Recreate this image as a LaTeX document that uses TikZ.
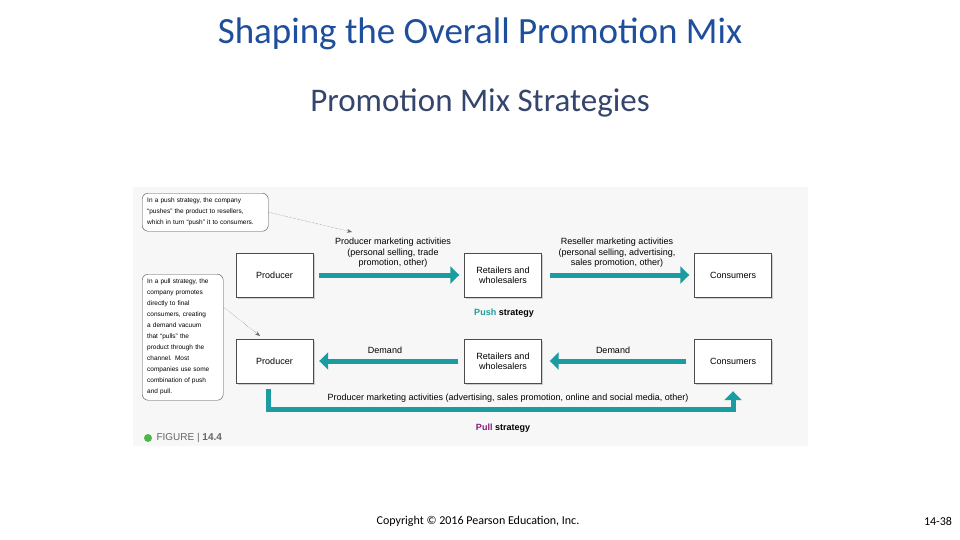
\documentclass[tikz,border=0pt]{standalone}
\usepackage{fontspec}
\setmainfont{Carlito}
\newfontfamily\figfont{Liberation Sans}
\usetikzlibrary{arrows.meta,positioning,shadows}
\definecolor{teal}{HTML}{1A9CA0}
\definecolor{pullc}{HTML}{8A1A7A}
\definecolor{titleblue}{HTML}{1F4E9C}
\definecolor{subblue}{HTML}{36456B}
\tikzset{
  box/.style={draw=black!70, fill=white, minimum width=77pt, minimum height=44pt,
    align=center, font=\figfont\fontsize{9}{10}\selectfont,
    drop shadow={shadow xshift=1.5pt, shadow yshift=-1.5pt, opacity=0.35}},
  flow/.style={teal, line width=5pt, -{Triangle[length=9pt,width=17pt]}},
  lbl/.style={font=\figfont\fontsize{9}{10.5}\selectfont, align=center},
  note/.style={draw=black!70, rounded corners=6pt, fill=white, align=left,
    font=\figfont\fontsize{6.5}{11}\selectfont, inner sep=5pt, anchor=north west},
  hint/.style={densely dotted, black!60, -{Stealth[length=5pt]}}
}
\begin{document}
\begin{tikzpicture}[x=1pt, y=-1pt]
\useasboundingbox (0,0) rectangle (960,540);
\fill[white] (0,0) rectangle (960,540);

\node[text=titleblue, font=\fontsize{37}{40}\selectfont] (title) at (480,34) {Shaping the Overall Promotion Mix};
\node[text=subblue, font=\fontsize{33}{36}\selectfont] (sub) at (480,103) {Promotion Mix Strategies};

% figure panel
\fill[black!3] (133,187) rectangle (808,446);

\node[box] (prod1) at (274.5,275) {Producer};
\node[box] (ret1) at (503,275) {Retailers and\\wholesalers};
\node[box] (cons1) at (733,275) {Consumers};
\node[box] (prod2) at (274.5,361) {Producer};
\node[box] (ret2) at (503,361) {Retailers and\\wholesalers};
\node[box] (cons2) at (733,361) {Consumers};

\draw[flow] ([xshift=6pt]prod1.east) -- ([xshift=-5pt]ret1.west);
\draw[flow] ([xshift=8pt]ret1.east) -- ([xshift=-5pt]cons1.west);
\draw[flow] ([xshift=-6pt]ret2.west) -- ([xshift=6pt]prod2.east);
\draw[flow] ([xshift=-8pt]cons2.west) -- ([xshift=8pt]ret2.east);
\draw[flow] ([xshift=-6pt,yshift=-6pt]prod2.south) |- (733,409) -- ([yshift=-8pt]cons2.south);

\node[lbl] (push1) at (393,253) {Producer marketing activities\\(personal selling, trade\\promotion, other)};
\node[lbl] (push2) at (617,253) {Reseller marketing activities\\(personal selling, advertising,\\sales promotion, other)};
\node[lbl] (dem1) at (385,350) {Demand};
\node[lbl] (dem2) at (613,350) {Demand};
\node[lbl] (pull1) at (508,398) {Producer marketing activities (advertising, sales promotion, online and social media, other)};
\node[lbl, font=\figfont\bfseries\fontsize{9}{10}\selectfont] (pushs) at (504,313) {\textcolor{teal}{Push} strategy};
\node[lbl, font=\figfont\bfseries\fontsize{9}{10}\selectfont] (pulls) at (503,428) {\textcolor{pullc}{Pull} strategy};

\node[note, text width=116pt] (n1) at (142,193) {In a push strategy, the company\\“pushes” the product to resellers,\\which in turn “push” it to consumers.};
\node[note, text width=71pt] (n2) at (142,274) {In a pull strategy, the\\company promotes\\directly to final\\consumers, creating\\a demand vacuum\\that “pulls” the\\product through the\\channel. Most\\companies use some\\combination of push\\and pull.};
\coordinate (a1) at (352,232);
\coordinate (a2) at (260,336);
\draw[hint] (n1.east) -- (a1);
\draw[hint] ([yshift=-33pt]n2.north east) -- (a2);

\fill[green!60!black!70] (148,438) circle (4pt);
\node[anchor=west, font=\figfont\fontsize{10}{12}\selectfont, text=black!60] (fig) at (153,438) {FIGURE \textbar\ \textbf{14.4}};

\node[font=\fontsize{12}{14}\selectfont] (copy) at (478,521) {Copyright \textcopyright{} 2016 Pearson Education, Inc.};
\node[font=\fontsize{12}{14}\selectfont] (page) at (938,521) {14-38};
\end{tikzpicture}
\end{document}
